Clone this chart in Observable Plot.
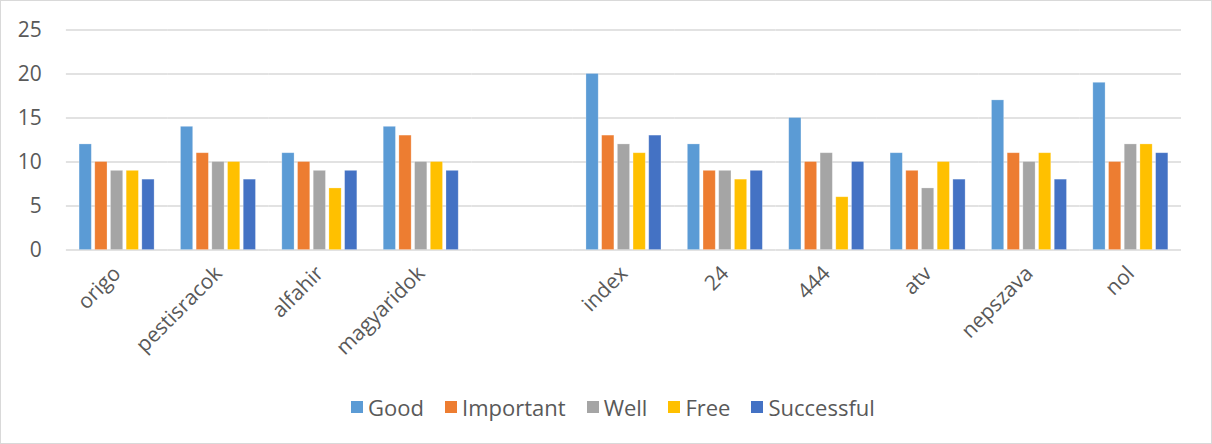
<!DOCTYPE html>
<html>
<head>
<meta charset="utf-8">
<script src="https://cdn.jsdelivr.net/npm/d3@7"></script>
<script src="https://cdn.jsdelivr.net/npm/@observablehq/plot@0.6"></script>
<style>
  html, body { margin: 0; padding: 0; background: #fff; }
  #frame { position: relative; width: 1210px; height: 442px; border: 1px solid #D9D9D9; overflow: hidden; }
  #chart svg { display: block; position: absolute; left: -1px; top: -1px; }
  #legend { position: absolute; left: 7px; top: 391px; width: 1210px; display: flex; justify-content: center; gap: 21px;
            font-family: "Open Sans", Lato, sans-serif; font-size: 22px; color: #595959; }
  #legend .item { display: flex; align-items: center; }
  #legend .sw { width: 12px; height: 12px; margin-right: 5px; }
</style>
</head>
<body>
<div id="frame"><div id="chart"></div><div id="legend"></div></div>
<script>
const sites = ["origo", "pestisracok", "alfahir", "magyaridok", "", "index", "24", "444", "atv", "nepszava", "nol"];
const seriesNames = ["Good", "Important", "Well", "Free", "Successful"];
const colors = ["#5B9BD5", "#ED7D31", "#A5A5A5", "#FFC000", "#4472C4"];
const good       = [12, 14, 11, 14, null, 20, 12, 15, 11, 17, 19];
const important  = [10, 11, 10, 13, null, 13,  9, 10,  9, 11, 10];
const well       = [ 9, 10,  9, 10, null, 12,  9, 11,  7, 10, 12];
const free       = [ 9, 10,  7, 10, null, 11,  8,  6, 10, 11, 12];
const successful = [ 8,  8,  9,  9, null, 13,  9, 10,  8,  8, 11];
const yTicks = [0, 5, 10, 15, 20, 25];

const seriesValues = [good, important, well, free, successful];
const data = [];
sites.forEach((s, i) => {
  seriesNames.forEach((n, j) => {
    data.push({site: s, series: n, value: seriesValues[j][i]});
  });
});

const H = 385;
const W = 1212, ML = 66, MR = 29;
const n = sites.length;
const step = (W - ML - MR) / n;
const pInner = 0.26;
const half = step * pInner / 2;

const plot = Plot.plot({
  width: W,
  height: H,
  marginLeft: ML,
  marginRight: MR,
  marginTop: 29.5,
  marginBottom: H - 250,
  style: {fontFamily: "'Open Sans', Lato, sans-serif", fontSize: "21px", color: "#595959", background: "transparent"},
  fx: {domain: sites, round: false, paddingInner: pInner, paddingOuter: pInner / 2, label: null, tickRotate: -45, tickSize: 0, tickPadding: 20},
  x: {domain: seriesNames, round: false, paddingInner: 0.22, paddingOuter: 0, axis: null},
  y: {domain: [0, 25], ticks: yTicks, label: null, tickSize: 0, tickPadding: 38},
  color: {domain: seriesNames, range: colors},
  marks: [
    Plot.ruleY(yTicks, {stroke: "#D9D9D9", strokeWidth: 1.5, insetLeft: -half, insetRight: -half}),
    Plot.barY(data, {fx: "site", x: "series", y: "value", fill: "series", stroke: "#fff", strokeOpacity: 0.35, strokeWidth: 0.75})
  ]
});
document.getElementById("chart").appendChild(plot);

const lg = document.getElementById("legend");
seriesNames.forEach((nm, i) => {
  const it = document.createElement("div");
  it.className = "item";
  const sw = document.createElement("div");
  sw.className = "sw";
  sw.style.background = colors[i];
  it.appendChild(sw);
  const t = document.createElement("span");
  t.textContent = nm;
  it.appendChild(t);
  lg.appendChild(it);
});
</script>
</body>
</html>
